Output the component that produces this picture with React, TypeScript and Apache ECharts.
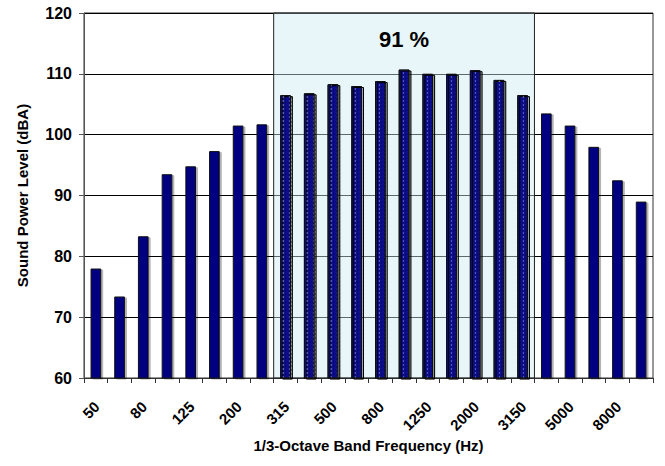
import React, { useEffect, useRef } from "react";
import * as echarts from "echarts";

const categories = ["50","63","80","100","125","160","200","250","315","400","500","630","800","1000","1250","1600","2000","2500","3150","4000","5000","6300","8000","10000"];
const levels = [78.0,73.4,83.3,93.5,94.8,97.3,101.5,101.7,106.5,106.8,108.3,108.0,108.8,110.7,110.0,110.0,110.6,109.0,106.5,103.5,101.5,98.0,92.5,89.0];
const tickLabels = ["50","80","125","200","315","500","800","1250","2000","3150","5000","8000"];
const bandStart = "315";
const bandEnd = "3150";
const bandLabel = "91 %";
const yTicks = { min: 60, max: 120, interval: 10 };

const FONT = "Liberation Sans";

export default function App() {
  const ref = useRef<HTMLDivElement>(null);
  useEffect(() => {
    if (!ref.current) return;
    const chart = echarts.init(ref.current, null, { renderer: "svg" });
    const si = categories.indexOf(bandStart);
    const ei = categories.indexOf(bandEnd);
    const data = levels.map((v, i) => {
      const inBand = i >= si && i <= ei;
      return {
        value: v,
        itemStyle: inBand
          ? {
              color: "#0a0a8c",
              decal: {
                symbol: "circle",
                symbolSize: 0.6,
                color: "rgba(190,215,255,0.6)",
                dashArrayX: [[3, 3]],
                dashArrayY: [2, 2],
                rotation: 0,
              },
            }
          : { color: "#000080" },
      };
    });
    const labelData = tickLabels.map((t) => [categories.indexOf(t), yTicks.min, t]);
    chart.setOption({
      animation: false,
      grid: { left: 84, right: 12, top: 13, bottom: 88, show: true, borderColor: "#333", borderWidth: 1 },
      xAxis: {
        type: "category",
        data: categories,
        name: "1/3-Octave Band Frequency (Hz)",
        nameLocation: "middle",
        nameGap: 60,
        nameTextStyle: { fontFamily: FONT, fontWeight: "bold", fontSize: 15, color: "#000" },
        axisLine: { lineStyle: { color: "#333" } },
        axisTick: { show: true, interval: 0, length: 5, lineStyle: { color: "#333" } },
        axisLabel: { show: false },
      },
      yAxis: {
        type: "value",
        min: yTicks.min,
        max: yTicks.max,
        interval: yTicks.interval,
        name: "Sound Power Level (dBA)",
        nameLocation: "middle",
        nameGap: 54,
        nameTextStyle: { fontFamily: FONT, fontWeight: "bold", fontSize: 15, color: "#000" },
        axisLine: { show: true, lineStyle: { color: "#555" } },
        axisTick: { show: true, length: 5, lineStyle: { color: "#555" } },
        axisLabel: { margin: 12, fontFamily: FONT, fontWeight: "bold", fontSize: 16, color: "#000" },
        splitLine: { show: true, lineStyle: { color: "#000", width: 1 } },
      },
      series: [
        {
          type: "bar",
          data,
          barWidth: "45%",
          itemStyle: { borderColor: "#111", borderWidth: 1, shadowColor: "rgba(0,0,0,0.3)", shadowOffsetX: 2, shadowOffsetY: 1, shadowBlur: 0 },
          markArea: {
            silent: true,
            itemStyle: { color: "rgba(205,235,242,0.45)", borderColor: "#222", borderWidth: 1 },
            label: {
              show: true,
              position: "insideTop",
              distance: 16,
              fontFamily: FONT,
              fontWeight: "bold",
              fontSize: 22,
              color: "#000",
            },
            data: [
              [
                { name: bandLabel, xAxis: bandStart, yAxis: yTicks.max },
                { xAxis: bandEnd, yAxis: yTicks.min },
              ],
            ],
          },
        },
        {
          type: "custom",
          clip: false,
          silent: true,
          data: labelData,
          encode: { x: 0, y: 1 },
          renderItem: (params: any, api: any) => {
            const p = api.coord([api.value(0), api.value(1)]);
            return {
              type: "text",
              x: p[0] + 1,
              y: p[1] + 26,
              rotation: Math.PI / 4,
              style: {
                text: String(api.value(2)),
                align: "right",
                verticalAlign: "middle",
                fontFamily: FONT,
                fontWeight: "bold",
                fontSize: 15,
                fill: "#000",
              },
            };
          },
        },
      ],
    });
    return () => chart.dispose();
  }, []);
  return <div ref={ref} style={{ width: 665, height: 466, position: "absolute", left: 0, top: 0 }} />;
}
